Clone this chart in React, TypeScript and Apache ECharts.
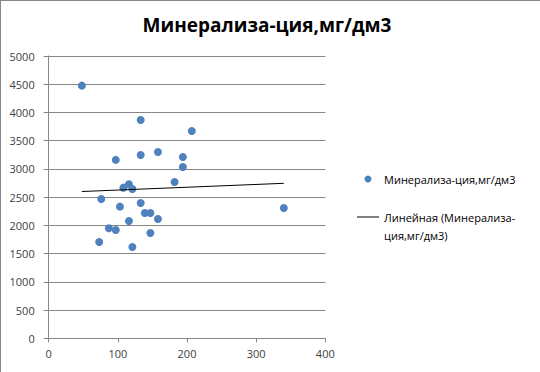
import React, { useEffect, useRef } from "react";
import * as echarts from "echarts";

const TITLE = "Минерализа-ция,мг/дм3";
const SERIES_NAME = "Минерализа-ция,мг/дм3";
const TREND_NAME = "Линейная (Минерализа-ция,мг/дм3)";
const TREND_LABEL_LINES = ["Линейная (Минерализа-", "ция,мг/дм3)"];
const xValues = [48, 133, 207, 97, 133, 158, 194, 194, 182, 108, 116, 121, 76, 103, 133, 139, 147, 158, 116, 87, 97, 147, 73, 121, 340];
const yValues = [4475, 3867, 3672, 3160, 3247, 3300, 3211, 3034, 2769, 2668, 2727, 2645, 2468, 2332, 2397, 2220, 2220, 2113, 2078, 1948, 1919, 1865, 1706, 1617, 2308];
const trendX = [48, 340];
const trendY = [2600, 2745];
const xTicks = { min: 0, max: 400, interval: 100 };
const yTicks = { min: 0, max: 5000, interval: 500 };

export default function App() {
  const ref = useRef<HTMLDivElement>(null);
  useEffect(() => {
    document.body.style.margin = "0";
    const chart = echarts.init(ref.current!, null, { renderer: "svg" });
    const font = "'Open Sans', 'Liberation Sans', sans-serif";
    const grid = "#868686";
    chart.setOption({
      animation: false,
      backgroundColor: "#ffffff",
      textStyle: { fontFamily: font },
      title: {
        text: TITLE,
        left: 262,
        top: 10,
        textAlign: "center",
        textStyle: { fontSize: 19, fontWeight: "bold", color: "#000", fontFamily: font },
      },
      grid: { left: 48.7, right: 214.7, top: 56, bottom: 33.7 },
      xAxis: {
        type: "value",
        ...xTicks,
        axisLine: { show: true, lineStyle: { color: grid } },
        axisTick: { show: true, length: 4, lineStyle: { color: grid } },
        splitLine: { show: false },
        axisLabel: { color: "#404040", fontSize: 11, margin: 10, fontFamily: font, formatter: (v: number) => String(v) },
      },
      yAxis: {
        type: "value",
        ...yTicks,
        axisLine: { show: true, lineStyle: { color: grid } },
        axisTick: { show: true, length: 5, lineStyle: { color: grid } },
        splitLine: { show: true, lineStyle: { color: grid, width: 1 } },
        axisLabel: { color: "#404040", fontSize: 11, margin: 14, fontFamily: font, formatter: (v: number) => String(v) },
      },
      legend: {
        orient: "vertical",
        left: 352,
        top: 165,
        itemWidth: 22,
        itemHeight: 7,
        itemGap: 2,
        textStyle: { fontSize: 11, color: "#000", fontFamily: font, lineHeight: 18 },
        data: [
          { name: SERIES_NAME, icon: "circle" },
          { name: TREND_NAME, icon: "path://M0,0L100,0L100,4.5L0,4.5Z", itemStyle: { color: "#000" } },
        ],
        formatter: (n: string) => (n === TREND_NAME ? "\n" + TREND_LABEL_LINES.join("\n") : n),
      },
      graphic: [
        { type: "line", shape: { x1: 0, y1: 0.5, x2: 540, y2: 0.5 }, style: { stroke: grid, lineWidth: 1 } },
        { type: "line", shape: { x1: 0.5, y1: 0, x2: 0.5, y2: 372 }, style: { stroke: grid, lineWidth: 1 } },
      ],
      series: [
        {
          name: SERIES_NAME,
          type: "scatter",
          symbolSize: 8,
          itemStyle: { color: "#4F81BD", opacity: 1 },
          data: xValues.map((x, i) => [x, yValues[i]]),
        },
        {
          name: TREND_NAME,
          type: "line",
          symbol: "none",
          showSymbol: false,
          lineStyle: { color: "#000", width: 1 },
          itemStyle: { color: "#000" },
          data: trendX.map((x, i) => [x, trendY[i]]),
        },
      ],
    });
    return () => chart.dispose();
  }, []);
  return <div ref={ref} style={{ width: 540, height: 372 }} />;
}
